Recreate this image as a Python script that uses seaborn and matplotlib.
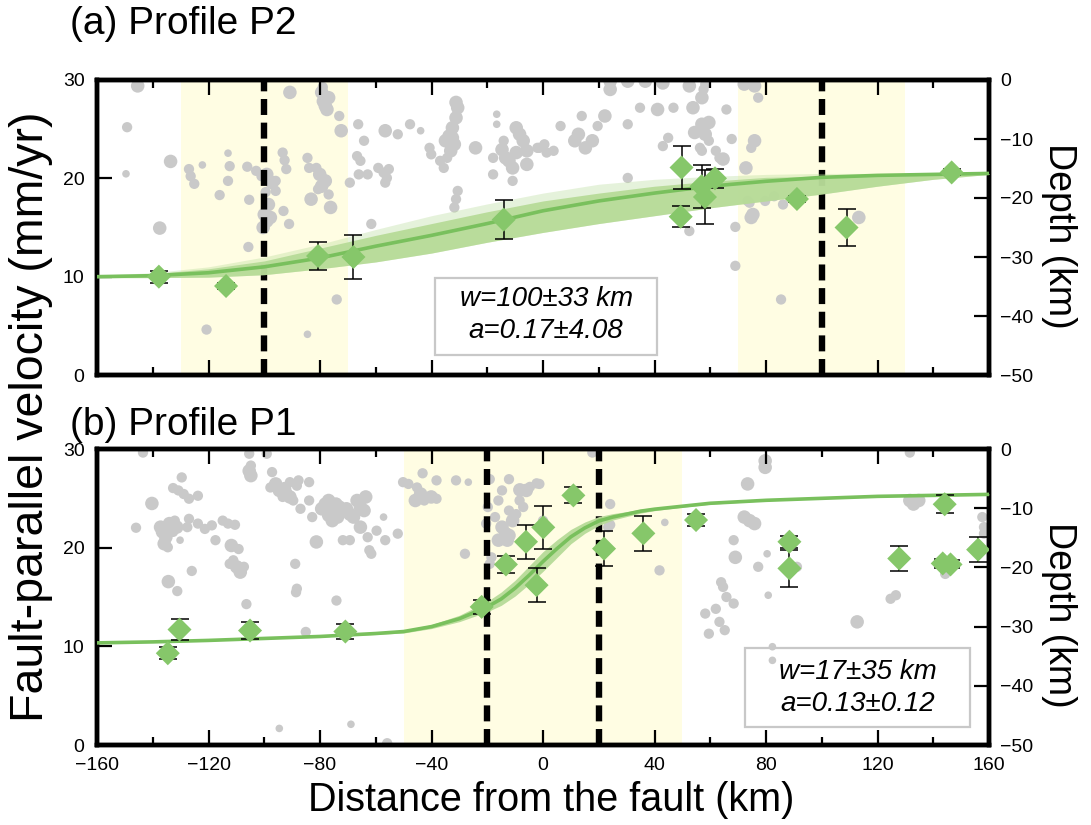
import numpy as np
import pandas as pd
import matplotlib
matplotlib.use("Agg")
import matplotlib.pyplot as plt
from matplotlib.patches import Rectangle
from matplotlib.ticker import MultipleLocator
import seaborn as sns

sns.set_theme(style="white")
plt.rcParams['font.family'] = ['Liberation Sans', 'DejaVu Sans']
plt.rcParams['text.color'] = 'black'
plt.rcParams['axes.labelcolor'] = 'black'
plt.rcParams['xtick.color'] = 'black'
plt.rcParams['ytick.color'] = 'black'

# ---------------- Profile P2 (panel a) ----------------
p2_dist = [-137.8, -113.7, -80.7, -68.0, -14.1, 49.7, 49.4, 56.9, 58.1, 61.7, 91.1, 108.9, 146.6]
p2_vel = [10.0, 9.05, 12.1, 12.0, 15.8, 21.1, 16.1, 19.2, 18.1, 20.0, 17.9, 15.0, 20.6]
p2_err = [0.6, 0.3, 1.45, 2.2, 1.95, 2.2, 1.05, 2.2, 2.7, 0.95, 0.3, 1.9, 0.3]

p2_curve_x = [-160, -140, -120, -100, -80, -60, -40, -20, 0, 20, 40, 60, 80, 100, 120, 140, 160]
p2_curve = [10.0, 10.1, 10.4, 11.0, 11.9, 13.1, 14.2, 15.4, 16.7, 17.7, 18.5, 19.2, 19.7, 20.1, 20.3, 20.4, 20.5]
p2_band_hi = [10.1, 10.3, 10.8, 11.6, 12.9, 14.2, 15.4, 16.6, 17.7, 18.5, 19.2, 19.7, 20.1, 20.2, 20.4, 20.5, 20.5]
p2_band_lo = [9.9, 9.9, 9.95, 10.2, 10.8, 11.5, 12.4, 13.5, 14.5, 15.4, 16.2, 17.0, 17.7, 18.4, 19.2, 19.9, 20.4]
p2_outer_hi = [10.15, 10.4, 11.0, 12.0, 13.3, 14.8, 16.2, 17.4, 18.5, 19.4, 19.9, 20.2, 20.4, 20.5, 20.5, 20.5, 20.5]

p2_eq_dist = [-145.4, -149.2, -149.6, -133.6, -137.5, -127.0, -126.4, -125.1, -122.2, -120.7,
              -116.0, -113.0, -112.4, -113.0, -105.4, -106.1, -102.9, -101.0, -105.7, -99.1,
              -97.2, -95.9, -98.5, -100.0, -99.1, -97.8, -95.9, -100.4, -99.5, -90.8,
              -93.4, -92.7, -92.1, -93.1, -91.1, -84.5, -83.9, -83.2, -84.5, -81.3,
              -80.1, -79.4, -78.1, -76.9, -76.2, -80.7, -79.4, -78.8, -77.5, -76.9,
              -78.1, -79.0, -74.0, -73.1, -72.4, -69.3, -66.1, -66.7, -65.5, -62.9,
              -61.6, -64.2, -66.3, -59.1, -57.2, -56.0, -56.6, -55.3, -56.6, -52.1,
              -47.7, -43.9, -40.7, -40.1, -36.9, -35.6, -34.4, -35.0, -33.7, -32.5,
              -31.2, -30.6, -31.2, -31.8, -33.1, -32.5, -30.6, -31.2, -31.8, -24.2,
              -17.9, -17.9, -16.6, -16.6, -14.7, -13.4, -12.2, -10.9, -9.6, -8.4,
              -7.1, -5.8, -5.8, -10.9, -9.6, -14.1, -2.0, 0.5,
              -1.3, 1.3, 3.8, 6.3, 11.4, 12.7, 13.9, 15.2, 17.7, 19.6,
              22.2, 24.1, 30.4, 30.4, 34.8, 41.1, 46.8, 53.8, 57.0, 57.6,
              58.2, 52.5, 43.0, 36.7, 30.4, 24.1, 77.2, 75.9, 72.2, 65.8,
              67.7, 75.9, 74.7, 64.6, 57.0, 57.0, 59.5, 58.2, 59.5, 43.0,
              44.9, 54.4, 72.8, 74.1, 75.3, 74.7, 69.0, 73.4, 79.7, 82.9,
              86.1, 52.5, 113.3, 69.0, 85.4, 56.3, 62.0, 63.3]
p2_eq_depth = [-1.0, -8.0, -15.9, -13.8, -25.1, -15.1, -16.3, -17.6, -14.4, -42.3,
               -19.5, -12.4, -14.6, -17.1, -20.3, -14.7, -15.4, -16.3, -28.3, -16.0,
               -17.4, -18.8, -21.1, -22.8, -23.9, -23.3, -17.1, -25.0, -19.0, -2.1,
               -12.3, -13.6, -15.1, -22.2, -24.4, -13.2, -14.9, -20.2, -43.1, -14.9,
               -16.0, -18.0, -17.1, -19.4, -21.6, -18.5, -2.1, -3.6, -5.0, -3.0,
               -4.4, -1.2, -37.2, -6.1, -8.6, -17.4, -16.0, -12.9, -13.7, -16.0,
               -24.4, -10.3, -7.5, -14.9, -15.7, -16.6, -17.4, -15.1, -8.6, -9.2,
               -7.5, -8.6, -11.5, -12.6, -13.7, -14.9, -13.2, -10.3, -9.5, -8.1,
               -6.4, -4.7, -3.8, -10.9, -12.0, -9.8, -18.8, -20.2, -21.6, -11.5,
               -13.2, -16.0, -5.8, -7.5, -11.8, -13.2, -13.7, -14.9, -8.1, -9.2,
               -10.3, -12.0, -14.3, -17.1, -12.3, -10.3, -11.5, -10.9,
               -11.5, -12.3, -12.0, -7.8, -10.3, -9.2, -6.1, -11.5, -10.3, -7.8,
               -6.1, -1.6, -7.5, -16.6, -4.7, -5.0, -4.7, -4.7, -3.0, -1.6,
               -0.7, -1.0, -0.5, -0.2, -0.2, -0.2, -3.0, -1.0, -0.7, -5.0,
               -10.0, -10.3, -11.5, -13.4, -12.0, -7.5, -7.2, -9.2, -10.3, -11.2,
               -9.8, -8.9, -14.9, -20.8, -22.8, -23.3, -24.9, -20.5, -20.5, -19.7,
               -21.1, -25.6, -23.3, -31.5, -37.2, -11.5, -12.0, -13.2]
p2_eq_size = [3, 2, 1, 3, 3, 2, 2, 2, 1, 2,
              2, 1, 2, 2, 2, 2, 2, 2, 2, 3,
              3, 2, 3, 3, 3, 3, 2, 3, 2, 3,
              2, 2, 2, 2, 2, 2, 2, 3, 1, 2,
              3, 3, 3, 2, 3, 2, 3, 3, 3, 3,
              3, 2, 2, 2, 3, 2, 2, 2, 2, 2,
              2, 2, 2, 2, 2, 2, 2, 2, 3, 2,
              2, 1, 2, 2, 2, 2, 2, 3, 3, 3,
              3, 3, 3, 3, 3, 3, 2, 2, 2, 3,
              2, 2, 1, 1, 3, 3, 3, 3, 3, 3,
              3, 3, 3, 2, 3, 2, 2, 2,
              2, 2, 2, 2, 3, 3, 2, 3, 3, 2,
              3, 3, 2, 2, 2, 3, 2, 3, 3, 2,
              2, 3, 3, 3, 3, 3, 2, 3, 3, 2,
              2, 3, 2, 3, 2, 3, 3, 3, 2, 2,
              2, 3, 3, 2, 3, 3, 2, 2, 2, 2,
              2, 2, 3, 2, 2, 2, 2, 2]

# ---------------- Profile P1 (panel b) ----------------
p1_dist = [-134.6, -130.4, -105.1, -70.9, -22.0, -13.3, -6.1, 0.1, -2.3, 10.9,
           21.9, 36.0, 54.9, 88.4, 88.4, 127.8, 144.1, 143.4, 146.2, 156.1]
p1_vel = [9.3, 11.7, 11.6, 11.5, 14.0, 18.3, 20.6, 22.06, 16.2, 25.3,
          19.9, 21.45, 22.8, 20.6, 17.9, 18.9, 24.4, 18.4, 18.3, 19.8]
p1_err = [0.6, 1.1, 0.85, 0.8, 0.7, 0.85, 1.7, 2.15, 1.75, 0.8,
          1.8, 1.75, 0.6, 0.6, 1.85, 1.3, 0.9, 0.5, 0.4, 1.25]

p1_curve_x = [-160, -140, -120, -100, -80, -60, -50, -40, -30, -25, -20, -15, -10, -5, 0,
              5, 10, 15, 20, 25, 30, 35, 40, 50, 60, 80, 100, 120, 140, 160]
p1_curve = [10.35, 10.45, 10.6, 10.8, 11.0, 11.3, 11.5, 12.0, 12.8, 13.4, 14.0, 14.8, 15.9, 17.2, 18.6,
            19.9, 21.1, 22.0, 22.7, 23.1, 23.4, 23.7, 23.9, 24.2, 24.5, 24.8, 25.0, 25.2, 25.3, 25.4]
p1_band_hi = [10.4, 10.5, 10.65, 10.85, 11.05, 11.4, 11.65, 12.2, 13.15, 13.85, 14.55, 15.5, 16.7, 18.15, 19.6,
              20.8, 21.85, 22.6, 23.15, 23.45, 23.65, 23.9, 24.05, 24.3, 24.6, 24.85, 25.05, 25.25, 25.35, 25.45]
p1_band_lo = [10.3, 10.4, 10.55, 10.75, 10.95, 11.2, 11.35, 11.8, 12.5, 13.0, 13.5, 14.15, 15.1, 16.3, 17.6,
              19.0, 20.4, 21.45, 22.25, 22.8, 23.15, 23.5, 23.75, 24.1, 24.4, 24.75, 24.95, 25.15, 25.25, 25.35]

p1_eq_dist = [-143.5, -146.0, -140.3, -137.2, -136.5, -135.3, -135.9, -134.6, -134.0, -132.7,
              -132.1, -131.4, -132.7, -130.8, -129.6, -128.9, -127.0, -123.8, -127.0, -123.8,
              -121.3, -118.8, -117.5, -114.9, -113.0, -110.5, -127.6, -130.2, -126.0, -134.4,
              -131.2, -111.8, -111.1, -109.9, -109.2, -108.6, -107.3, -112.4, -106.4, -105.4,
              -104.8, -105.4, -104.8, -99.1, -97.2, -97.8, -95.9, -94.6, -92.7, -90.8,
              -88.3, -87.7, -92.1, -90.8, -93.4, -89.6, -87.0, -83.9, -83.9, -88.9,
              -88.3, -88.6, -82.8, -81.3, -79.4, -78.1, -76.9, -75.6, -74.3, -73.1,
              -76.9, -75.6, -73.7, -72.4, -70.5, -69.3, -68.0, -66.7, -65.5, -63.6,
              -64.2, -65.5, -62.9, -61.6, -62.3, -59.7, -56.6, -57.2, -52.1, -69.3,
              -71.8, -74.1, -85.1, -68.9, -94.6, -55.9, -50.2, -48.3, -45.2, -45.8,
              -43.9, -42.6, -40.1, -38.2, -43.2, -38.2, -31.2, -26.8, -28.0, -19.1,
              -19.8, -17.2, -16.0, -14.7, -13.4, -12.8, -12.2, -16.0, -10.9, -9.6,
              -8.4, -7.1, -8.4, -12.2, -14.7, -12.2, -20.4, -18.5, -19.1, -4.7,
              -2.3, -6.0, -8.3,
              17.7, 79.7, 79.7, 73.4, 72.2, 74.1, 75.9, 43.7, 41.8, 68.4,
              69.0, 63.9, 64.6, 65.8, 68.4, 62.0, 58.2, 59.5, 63.3, 65.2,
              77.2, 80.4, 80.8, 112.7, 82.3, 82.3, 124.7, 126.6, 131.6, 132.9,
              134.8, 131.6, 157.6, 158.2, 158.2, 144.3, 24.1, 23.4, 24.1, -1.3,
              0.0, 91.1]
p1_eq_depth = [-0.6, -13.3, -9.2, -13.2, -14.0, -14.9, -16.0, -16.6, -12.6, -14.0,
               -12.1, -13.2, -6.6, -7.0, -4.8, -7.6, -8.4, -7.9, -11.8, -12.6,
               -13.5, -12.9, -15.4, -12.1, -12.6, -12.8, -13.2, -15.4, -20.6, -22.4,
               -24.0, -16.3, -18.8, -19.9, -16.9, -20.8, -19.9, -19.4, -26.2, -0.8,
               -2.8, -3.7, -4.5, -0.8, -3.9, -6.5, -5.9, -7.0, -6.7, -5.6,
               -6.2, -5.3, -7.6, -8.1, -8.1, -8.7, -10.1, -5.6, -8.7, -19.4,
               -23.6, -24.2, -11.5, -15.7, -10.1, -9.3, -8.7, -10.4, -9.3, -9.8,
               -11.2, -12.1, -11.5, -10.4, -10.1, -11.0, -11.5, -8.7, -9.8, -8.1,
               -10.4, -13.2, -14.9, -17.7, -17.1, -13.8, -15.4, -11.5, -14.3, -15.4,
               -15.4, -25.6, -30.9, -46.5, -47.2, -49.7, -5.6, -5.9, -6.5, -8.7,
               -7.6, -8.7, -8.1, -8.4, -4.1, -5.3, -5.3, -5.6, -17.7, -5.1,
               -9.8, -11.5, -8.7, -13.2, -14.3, -15.4, -14.6, -15.4, -12.1, -11.0,
               -8.7, -9.8, -7.0, -5.1, -7.0, -10.4, -12.6, -18.3, -19.4, -6.4,
               -5.8, -7.0, -6.9,
               -0.6, -2.0, -3.1, -5.9, -11.5, -12.1, -12.6, -12.4, -20.5, -15.4,
               -18.3, -22.5, -23.3, -25.0, -26.1, -27.0, -27.8, -31.2, -29.2, -30.6,
               -19.9, -17.7, -24.7, -29.2, -33.4, -35.7, -25.3, -24.7, -8.7, -9.3,
               -8.7, -0.6, -11.5, -13.2, -14.3, -21.1, -9.3, -13.2, -12.8, -5.9,
               -12.1, -19.9]
p1_eq_size = [2, 2, 3, 3, 3, 3, 3, 2, 3, 2,
              2, 3, 2, 2, 2, 2, 2, 2, 2, 2,
              2, 2, 2, 2, 2, 2, 2, 1, 2, 3,
              2, 3, 2, 3, 2, 3, 2, 2, 2, 2,
              2, 3, 3, 2, 2, 2, 3, 3, 3, 2,
              2, 2, 3, 3, 2, 2, 2, 2, 2, 2,
              2, 2, 2, 3, 3, 3, 3, 3, 3, 3,
              3, 3, 3, 3, 3, 3, 3, 3, 3, 3,
              3, 3, 2, 2, 2, 2, 2, 1, 2, 2,
              2, 2, 2, 1, 1, 2, 2, 2, 2, 3,
              3, 2, 3, 2, 2, 2, 2, 1, 2, 2,
              2, 2, 2, 3, 3, 3, 3, 3, 3, 2,
              2, 2, 2, 2, 2, 2, 2, 2, 2, 2,
              2, 3, 3,
              2, 3, 3, 3, 3, 3, 3, 1, 2, 2,
              3, 2, 2, 2, 2, 2, 2, 2, 2, 2,
              2, 1, 1, 3, 1, 1, 2, 2, 3, 3,
              3, 2, 2, 2, 2, 2, 2, 2, 2, 2,
              2, 2]

p2_zones = [(-130, -70), (70, 130)]
p1_zones = [(-50, 50)]
p2_faults = [-100, 100]
p1_faults = [-20, 20]
p2_text = ["w=100±33 km", "a=0.17±4.08"]
p1_text = ["w=17±35 km", "a=0.13±0.12"]

GREEN = '#86c76a'
LINE = '#79c05d'
BAND = '#b7db98'
GRAY = '#c9c9c9'
YELLOW = '#fffde3'

W, H = 1091, 825
fig = plt.figure(figsize=(W / 100, H / 100), dpi=100)


def px_axes(l, t, r, b):
    return fig.add_axes([l / W, 1 - b / H, (r - l) / W, (b - t) / H])


def panel(ax, dist, vel, err, cx, cy, bhi, blo, ohi, eqx, eqd, eqs, zones, faults,
          texts, box, text_y, show_xlabels, depth_label_y):
    ax2 = ax.twinx()
    ax.set_zorder(ax2.get_zorder() + 1)
    ax.patch.set_visible(False)
    ax2.patch.set_facecolor('white')

    for lo, hi in zones:
        ax2.axvspan(lo, hi, color=YELLOW, lw=0, zorder=0)
    eq = pd.DataFrame({'dist': eqx, 'depth': eqd, 'mag': eqs})
    sns.scatterplot(data=eq, x='dist', y='depth', size='mag', sizes={1: 30, 2: 55, 3: 95},
                    color=GRAY, edgecolor='none', linewidth=0, legend=False, ax=ax2, zorder=1)
    ax2.set_ylim(-50, 0)
    ax2.yaxis.set_major_locator(MultipleLocator(10))
    ax2.set_xlabel('')
    ax2.set_ylabel('Depth (km)', rotation=-90, fontsize=27, color='black', va='center')
    ax2.yaxis.set_label_coords(1.078, depth_label_y)
    ax2.tick_params(axis='y', direction='in', length=11, width=1.6, labelsize=14,
                    pad=8, colors='black')

    for f in faults:
        ax.axvline(f, color='black', lw=4.6, dashes=(2.5, 1.2), zorder=2)
    if ohi is not None:
        ax.fill_between(cx, blo, ohi, color=BAND, alpha=0.35, lw=0, zorder=3)
    ax.fill_between(cx, blo, bhi, color=BAND, alpha=0.95, lw=0, zorder=3)
    sns.lineplot(x=cx, y=cy, color=LINE, lw=2.6, ax=ax, zorder=4)
    ax.errorbar(dist, vel, yerr=err, fmt='none', ecolor='black', elinewidth=1.1,
                capsize=6.5, capthick=1.1, zorder=5)
    sns.scatterplot(x=dist, y=vel, marker='D', s=150, color=GREEN, edgecolor='none',
                    linewidth=0, ax=ax, zorder=6)

    ax.set_xlim(-160, 160)
    ax.set_ylim(0, 30)
    ax.xaxis.set_major_locator(MultipleLocator(40))
    ax.xaxis.set_minor_locator(MultipleLocator(20))
    ax.yaxis.set_major_locator(MultipleLocator(10))
    ax.tick_params(axis='x', which='major', direction='in', length=11, width=1.6,
                   top=True, bottom=True, labelsize=14, pad=9, labelbottom=show_xlabels)
    ax.tick_params(axis='x', which='minor', direction='in', length=6, width=1.6,
                   top=True, bottom=True)
    ax.tick_params(axis='y', direction='in', length=11, width=1.6, left=True,
                   labelsize=14, pad=9)
    ax.set_xlabel('')
    ax.set_ylabel('')
    for a in (ax, ax2):
        for s in a.spines.values():
            s.set_linewidth(3.2)
            s.set_color('black')

    bx0, by0, bx1, by1 = box
    ax.add_patch(Rectangle((bx0, by0), bx1 - bx0, by1 - by0, transform=ax.transAxes,
                           fill=False, ec='#c8c8c8', lw=1.6, zorder=7))
    for t, ty in zip(texts, text_y):
        ax.text((bx0 + bx1) / 2, ty, t, transform=ax.transAxes, ha='center', va='center',
                fontsize=20, style='italic', zorder=8)


ax_a = px_axes(97, 80, 989, 375)
panel(ax_a, p2_dist, p2_vel, p2_err, p2_curve_x, p2_curve, p2_band_hi, p2_band_lo, p2_outer_hi,
      p2_eq_dist, p2_eq_depth, p2_eq_size, p2_zones, p2_faults, p2_text,
      (0.379, 0.068, 0.628, 0.329), (0.258, 0.150), False, 0.47)

ax_b = px_axes(97, 449, 989, 745)
panel(ax_b, p1_dist, p1_vel, p1_err, p1_curve_x, p1_curve, p1_band_hi, p1_band_lo, None,
      p1_eq_dist, p1_eq_depth, p1_eq_size, p1_zones, p1_faults, p1_text,
      (0.726, 0.061, 0.979, 0.328), (0.248, 0.140), True, 0.44)

fig.text(70 / W, 1 - 24 / H, '(a) Profile P2', fontsize=28, ha='left', va='center')
fig.text(70 / W, 1 - 425 / H, '(b) Profile P1', fontsize=28, ha='left', va='center')
fig.text(31 / W, 1 - 417 / H, 'Fault-parallel velocity (mm/yr)', fontsize=33.5,
         rotation=90, ha='center', va='center')
fig.text(551 / W, 1 - 800 / H, 'Distance from the fault (km)', fontsize=28.5,
         ha='center', va='center')

fig.savefig('out.png', dpi=100)
